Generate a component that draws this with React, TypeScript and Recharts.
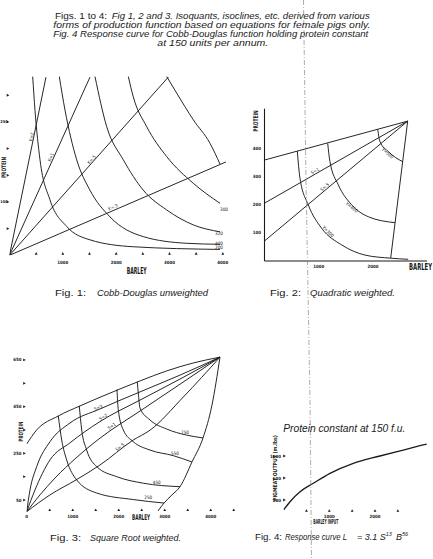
import { ComposedChart, Line, Scatter, XAxis, YAxis } from "recharts";

type Pt = { x: number; y: number };
type Note = { x: number; y: number; t: string; a: number };

const pts = (rows: number[][]): Pt[] => rows.map(([x, y]) => ({ x, y }));

// Fig. 1 — Cobb-Douglas unweighted (barley on x, protein on y)
const f1RayK2 = pts([[0, 0], [684, 334]]);
const f1RayK1 = pts([[0, 0], [1509, 334]]);
const f1RayK05 = pts([[0, 0], [2978, 334]]);
const f1RayK03 = pts([[0, 0], [4059, 175]]);
const f1IsoA = pts([[435, 335], [478, 272], [572, 179], [759, 104], [1073, 54], [1509, 29], [2321, 16], [3947, 11]]);
const f1IsoB = pts([[934, 335], [1041, 272], [1260, 179], [1509, 122], [1884, 72], [2509, 35], [3323, 22.5], [3947, 20.6]]);
const f1IsoC = pts([[1603, 335], [1823, 241], [2134, 179], [2509, 122], [2948, 85], [3446, 57], [3947, 44]]);
const f1IsoD = pts([[2228, 335], [2321, 297], [2573, 241], [2948, 185], [3446, 135], [3947, 97.5]]);
const f1IsoE = pts([[2948, 335], [3135, 304], [3446, 254], [3759, 210], [3947, 171]]);
const f1Notes: Note[] = [
  { x: 416, y: 222, t: "K=2", a: -78 },
  { x: 778, y: 184, t: "K=1", a: -66 },
  { x: 1541, y: 179, t: "K=.5", a: -48 },
  { x: 1941, y: 90, t: "K=.3", a: -23 },
  { x: 4022, y: 85, t: "300", a: 0 },
  { x: 3928, y: 40, t: "320", a: 0 },
  { x: 3928, y: 23, t: "400", a: 0 },
  { x: 3928, y: 14, t: "200", a: 0 },
];
const f1XTicks = [500, 1000, 1500, 2000, 2500, 3000, 3500, 4000];
const f1XLabels = [1000, 2000, 3000, 4000];
const f1YTicks = [50, 100, 150, 200, 250, 300];
const f1YLabels = [100, 250];

// Fig. 2 — Quadratic weighted
const f2Top = pts([[0, 358], [2642, 496]]);
const f2S1 = pts([[0, 205], [2642, 496]]);
const f2S05 = pts([[0, 71], [2642, 496]]);
const f2Edge = pts([[2328, 10], [2642, 496]]);
const f2Y300 = pts([[605, 390], [655, 293], [808, 199], [1055, 116], [1424, 57], [1854, 21], [2328, 10], [2650, 6]]);
const f2Y400 = pts([[1166, 417], [1208, 352], [1362, 270], [1609, 199], [1915, 157], [2408, 136]]);
const f2Y500 = pts([[2089, 467], [2131, 423], [2284, 388], [2550, 352]]);
const f2Notes: Note[] = [
  { x: 932, y: 319, t: "S=1", a: -30 },
  { x: 1116, y: 262, t: "S=.5", a: -40 },
  { x: 1170, y: 104, t: "Y=300", a: 45 },
  { x: 1609, y: 190, t: "Y=400", a: 38 },
  { x: 2270, y: 382, t: "Y=500", a: 40 },
];
const f2XTicks = [1000, 2000];
const f2YTicks = [100, 200, 300, 400];

// Fig. 3 — Square Root weighted
const f3Top = pts([[0, 290], [217, 350], [687, 410], [1159, 453], [1811, 508], [2463, 560], [3043, 603], [3622, 637], [4202, 662]]);
const f3S3 = pts([[0, 0], [72, 93], [217, 193], [507, 300], [941, 380], [1593, 440], [2463, 513], [3333, 585], [4202, 662]]);
const f3S2 = pts([[0, 0], [180, 93], [507, 222], [941, 295], [1593, 386], [2463, 478], [3333, 568], [4202, 662]]);
const f3S1 = pts([[0, 0], [289, 72], [615, 144], [1072, 230], [1593, 315], [2463, 431], [3333, 546], [4202, 662]]);
const f3S05 = pts([[0, 0], [507, 72], [1072, 136], [1593, 200], [2317, 307], [2680, 349], [3404, 491], [4202, 662]]);
const f3Q250 = pts([[687, 410], [761, 307], [870, 221], [1087, 136], [1522, 80], [2317, 52], [2985, 37]]);
const f3Q450 = pts([[1143, 453], [1196, 350], [1304, 264], [1522, 193], [1957, 150], [2535, 122], [3333, 107]]);
const f3Q550 = pts([[1963, 523], [1991, 436], [2100, 350], [2317, 300], [2680, 264], [3187, 240], [3593, 213]]);
const f3Q750 = pts([[2404, 556], [2426, 508], [2463, 444], [2680, 393], [3043, 354], [3478, 328], [3833, 316]]);
const f3Edge = pts([[2854, 3], [2985, 37], [3159, 72], [3333, 107], [3593, 213], [3833, 316], [4028, 457], [4202, 662]]);
const f3Notes: Note[] = [
  { x: 1557, y: 445, t: "S=3", a: -24 },
  { x: 1665, y: 405, t: "S=2", a: -31 },
  { x: 1848, y: 366, t: "S=1", a: -34 },
  { x: 2028, y: 276, t: "S=.5", a: -37 },
  { x: 3441, y: 340, t: "750", a: 0 },
  { x: 3224, y: 251, t: "550", a: 0 },
  { x: 2826, y: 127, t: "450", a: 0 },
  { x: 2643, y: 61, t: "250", a: 0 },
];
const f3XTicks = [0, 500, 1000, 1500, 2000, 2500, 3000, 3500, 4000, 4500];
const f3XLabels = [0, 1000, 2000, 3000, 4000];
const f3YTicks = [50, 150, 250, 350, 450, 550, 650];
const f3YLabels = [50, 250, 450, 650];

// Fig. 4 — response curve, protein held at 150 f.u.
const f4Curve = pts([[0, 20], [140, 169], [359, 351], [650, 504], [1015, 685], [1525, 867], [2109, 1000], [2619, 1109], [3131, 1218]]);
const f4XTicks = [500, 1000, 1500, 2000, 2500];
const f4XLabels = [1000, 2000];
const f4YTicks = [200, 600, 1000];

const INK = "#1a1a1a";
const SANS = "'Liberation Sans', Arial, sans-serif";
const COND = "'DejaVu Sans Condensed', 'DejaVu Sans', sans-serif";

const upTri = (x: number, y: number) => `M${x},${y - 1.5}L${x + 1.4},${y + 1.1}L${x - 1.4},${y + 1.1}Z`;
const rightTri = (x: number, y: number) => `M${x + 1.5},${y}L${x - 1.1},${y - 1.4}L${x - 1.1},${y + 1.4}Z`;

const xTick = (triY: number, labY: number, labels: number[], tri = true) => (p: any) => {
  const v = p.payload.value;
  return (
    <g>
      {tri && v !== 0 && <path d={upTri(p.x, triY)} fill={INK} />}
      {labels.includes(v) && (
        <text x={p.x} y={labY} textAnchor="middle" fontSize={4.4} fontWeight={700} fontFamily={COND} fill={INK}>{v}</text>
      )}
    </g>
  );
};

// labX > 0: right-aligned at labX; labX < 0: left-aligned at -labX (for labels at the page edge)
const yTick = (triX: number, labX: number, labels: number[], tri = true) => (p: any) => {
  const v = p.payload.value;
  const start = labX < 0;
  return (
    <g>
      {tri && <path d={rightTri(triX, p.y)} fill={INK} />}
      {labels.includes(v) && (
        <text x={Math.abs(labX)} y={p.y + 1.5} textAnchor={start ? "start" : "end"} fontSize={start ? 3.9 : 4.4}
          fontWeight={700} fontFamily={COND} fill={INK}>{v}</text>
      )}
    </g>
  );
};

const noteShape = (p: any) => {
  const n = p.payload as Note;
  return (
    <text x={p.cx} y={p.cy} transform={`rotate(${n.a} ${p.cx} ${p.cy})`} textAnchor="middle" dominantBaseline="central"
      fontSize={4.6} fontFamily={COND} fill={INK}>{n.t}</text>
  );
};

type Series = { data: Pt[]; curve?: boolean; w?: number };

function Panel(props: {
  left: number; top: number; width: number; height: number;
  margin: { top: number; right: number };
  xDomain: number[]; yDomain: number[]; xAxisH: number; yAxisW: number;
  xTicks: number[]; yTicks: number[]; xTickFn: any; yTickFn: any;
  series: Series[]; notes?: Note[]; axisLines?: boolean;
}) {
  const axisLine = props.axisLines ? { stroke: INK, strokeWidth: 1.1 } : false;
  return (
    <div style={{ position: "absolute", left: props.left, top: props.top }}>
      <ComposedChart width={props.width} height={props.height}
        margin={{ top: props.margin.top, right: props.margin.right, bottom: 0, left: 0 }}>
        <XAxis type="number" dataKey="x" domain={props.xDomain} ticks={props.xTicks} interval={0}
          tick={props.xTickFn} tickLine={false} axisLine={axisLine} height={props.xAxisH} allowDataOverflow />
        <YAxis type="number" dataKey="y" domain={props.yDomain} ticks={props.yTicks} interval={0}
          tick={props.yTickFn} tickLine={false} axisLine={axisLine} width={props.yAxisW} allowDataOverflow />
        {props.series.map((s, i) => (
          <Line key={i} data={s.data} dataKey="y" type={s.curve ? "monotone" : "linear"} stroke={INK}
            strokeWidth={s.w ?? 0.95} dot={false} activeDot={false} isAnimationActive={false} />
        ))}
        {props.notes && <Scatter data={props.notes} shape={noteShape} isAnimationActive={false} />}
      </ComposedChart>
    </div>
  );
}

export default function App() {
  return (
    <div style={{ position: "absolute", left: 0, top: 0, width: 433, height: 559, background: "#fff", overflow: "hidden" }}>
      <Panel left={0} top={60} width={240} height={225} margin={{ top: 8.6, right: 6.5 }}
        xDomain={[0, 4200]} yDomain={[0, 350]} xAxisH={29.7} yAxisW={9.5}
        xTicks={f1XTicks} yTicks={f1YTicks}
        xTickFn={xTick(193.6, 203.6, f1XLabels)} yTickFn={yTick(7.8, -0.3, f1YLabels)}
        series={[
          { data: f1RayK2 }, { data: f1RayK1 }, { data: f1RayK05 }, { data: f1RayK03 },
          { data: f1IsoA, curve: true }, { data: f1IsoB, curve: true }, { data: f1IsoC, curve: true },
          { data: f1IsoD, curve: true }, { data: f1IsoE, curve: true },
        ]}
        notes={f1Notes} />

      <Panel left={240} top={95} width={193} height={185} margin={{ top: 13.7, right: 5.9 }}
        xDomain={[0, 3000]} yDomain={[0, 540]} xAxisH={19} yAxisW={24.5}
        xTicks={f2XTicks} yTicks={f2YTicks}
        xTickFn={xTick(0, 172.5, f2XTicks, false)} yTickFn={yTick(0, 21, f2YTicks, false)}
        series={[
          { data: f2Top }, { data: f2S1 }, { data: f2S05 }, { data: f2Edge },
          { data: f2Y300, curve: true }, { data: f2Y400, curve: true }, { data: f2Y500, curve: true },
        ]}
        notes={f2Notes} axisLines />

      <Panel left={0} top={340} width={240} height={190} margin={{ top: 8.25, right: 6.3 }}
        xDomain={[0, 4500]} yDomain={[0, 700]} xAxisH={18.3} yAxisW={26.7}
        xTicks={f3XTicks} yTicks={f3YTicks}
        xTickFn={xTick(170, 177.6, f3XLabels)} yTickFn={yTick(24.3, 21.5, f3YLabels)}
        series={[
          { data: f3Top, curve: true }, { data: f3S3, curve: true }, { data: f3S2, curve: true },
          { data: f3S1, curve: true }, { data: f3S05, curve: true },
          { data: f3Q250, curve: true }, { data: f3Q450, curve: true }, { data: f3Q550, curve: true },
          { data: f3Q750, curve: true }, { data: f3Edge, curve: true },
        ]}
        notes={f3Notes} />

      <Panel left={260} top={420} width={173} height={105} margin={{ top: 19.5, right: 3.16 }}
        xDomain={[0, 3200]} yDomain={[0, 1300]} xAxisH={14} yAxisW={23.6}
        xTicks={f4XTicks} yTicks={f4YTicks}
        xTickFn={xTick(90.7, 97.5, f4XLabels)} yTickFn={yTick(24.3, 21, f4YTicks)}
        series={[{ data: f4Curve, curve: true, w: 1.3 }]} />

      <svg width={433} height={559} style={{ position: "absolute", left: 0, top: 0, pointerEvents: "none" }}>
        <polyline points="303.5,0 306,180 310,400 311.5,559" fill="none" stroke="#8a8a8a" strokeWidth={0.7} strokeDasharray="5 2 1 2" />

        <g fontFamily={SANS} fontSize={8.6} fill={INK}>
          <text x={55} y={18.8} textLength={52} lengthAdjust="spacingAndGlyphs">Figs. 1 to 4:</text>
          <text x={111.7} y={18.8} fontStyle="italic" textLength={258} lengthAdjust="spacingAndGlyphs">Fig 1, 2 and 3. Isoquants, isoclines, etc. derived from various</text>
          <text x={53.3} y={27.8} fontStyle="italic" textLength={317} lengthAdjust="spacingAndGlyphs">forms of production function based on equations for female pigs only.</text>
          <text x={53.3} y={36.8} fontStyle="italic" textLength={315} lengthAdjust="spacingAndGlyphs">Fig. 4 Response curve for Cobb-Douglas function holding protein constant</text>
          <text x={157.3} y={45.8} fontStyle="italic" textLength={111} lengthAdjust="spacingAndGlyphs">at 150 units per annum.</text>
        </g>

        <g fontFamily={SANS} fontSize={9} fill={INK}>
          <text x={55} y={295.5} textLength={31} lengthAdjust="spacingAndGlyphs">Fig. 1:</text>
          <text x={97} y={295.5} fontStyle="italic" textLength={111} lengthAdjust="spacingAndGlyphs">Cobb-Douglas unweighted</text>
          <text x={270} y={295.5} textLength={31} lengthAdjust="spacingAndGlyphs">Fig. 2:</text>
          <text x={310} y={295.5} fontStyle="italic" textLength={85} lengthAdjust="spacingAndGlyphs">Quadratic weighted.</text>
          <text x={50} y={540.5} textLength={31} lengthAdjust="spacingAndGlyphs">Fig. 3:</text>
          <text x={90} y={540.5} fontStyle="italic" textLength={91} lengthAdjust="spacingAndGlyphs">Square Root weighted.</text>
          <text x={255} y={539.5} textLength={27} lengthAdjust="spacingAndGlyphs">Fig. 4:</text>
          <text x={285} y={539.5} fontStyle="italic" textLength={62} lengthAdjust="spacingAndGlyphs">Response curve L</text>
          <text x={357} y={539.5} fontStyle="italic">= 3.1 S<tspan dy={-3.3} fontSize={5.5}>13</tspan><tspan dx={4} dy={3.3}>B</tspan><tspan dy={-3.3} fontSize={5.5}>56</tspan></text>
          <text x={283.3} y={431.5} fontStyle="italic" fontSize={10.5} textLength={122} lengthAdjust="spacingAndGlyphs">Protein constant at 150 f.u.</text>
        </g>

        <g fontFamily={COND} fontWeight={700} fill={INK}>
          <text transform="translate(5.6 167.5) rotate(-90)" textAnchor="middle" fontSize={6.2} textLength={21} lengthAdjust="spacingAndGlyphs">PROTEIN</text>
          <text x={126.7} y={273.5} fontSize={9.5} textLength={20} lengthAdjust="spacingAndGlyphs">BARLEY</text>
          <text transform="translate(257.7 121) rotate(-90)" textAnchor="middle" fontSize={6.5} textLength={21.5} lengthAdjust="spacingAndGlyphs">PROTEIN</text>
          <text transform="translate(409 270) scale(0.62 1)" fontSize={9.5}>BARLEY</text>
          <text transform="translate(22.7 431.7) rotate(-90)" textAnchor="middle" fontSize={6} textLength={20} lengthAdjust="spacingAndGlyphs">PROTEIN</text>
          <text transform="translate(132 519.5) scale(0.58 1)" fontSize={8}>BARLEY</text>
          <text transform="translate(276.7 468) rotate(-90)" textAnchor="middle" fontSize={5.5} textLength={66} lengthAdjust="spacingAndGlyphs">PIGMEAT OUTPUT (m.lbs)</text>
          <text x={313.3} y={523.5} fontSize={7} textLength={25} lengthAdjust="spacingAndGlyphs">BARLEY INPUT</text>
        </g>
      </svg>
    </div>
  );
}
